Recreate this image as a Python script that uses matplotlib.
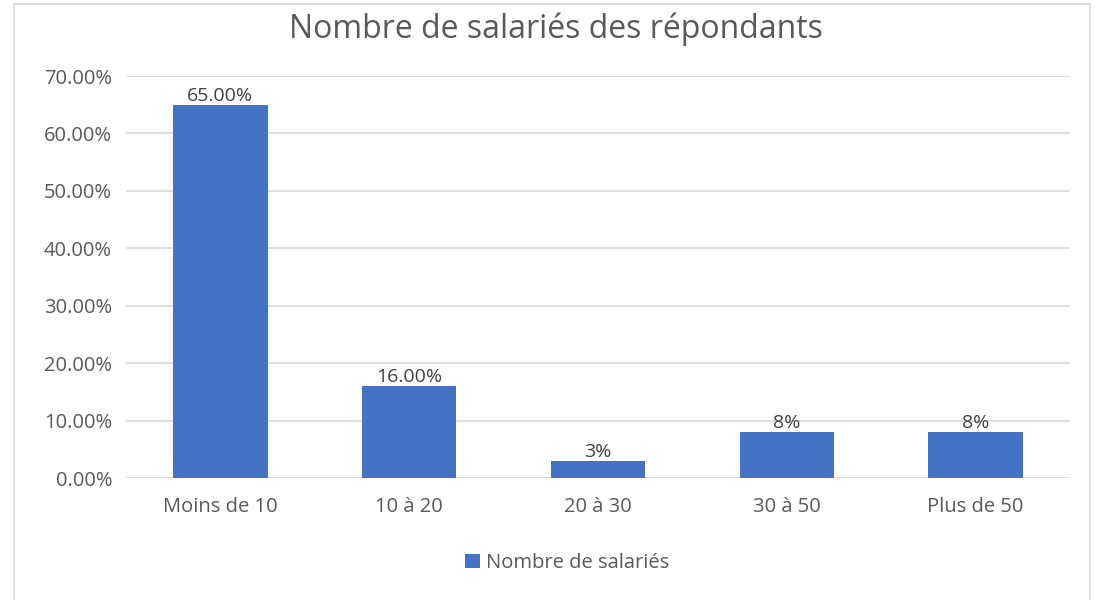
import matplotlib.pyplot as plt
from matplotlib.patches import Rectangle
from matplotlib.ticker import FuncFormatter

categories = ["Moins de 10", "10 à 20", "20 à 30", "30 à 50", "Plus de 50"]
values = [65.0, 16.0, 3.0, 8.0, 8.0]
labels = ["65.00%", "16.00%", "3%", "8%", "8%"]
yticks = [0, 10, 20, 30, 40, 50, 60, 70]

plt.rcParams['font.family'] = ['Open Sans', 'DejaVu Sans']

fig = plt.figure(figsize=(11.01, 6), dpi=100)
ax = fig.add_axes([0.1144, 0.2033, 0.8574, 0.67])

# light chart-area border like Excel
fig.patches.append(Rectangle((14 / 1101, -0.01), (1090 - 14) / 1101, 1 - 4 / 600 + 0.01,
                             transform=fig.transFigure, fill=False,
                             edgecolor='#d9d9d9', linewidth=1.2))

x = range(len(categories))
bars = ax.bar(x, values, width=0.5, color='#4472C4', zorder=3)
for b, lab in zip(bars, labels):
    ax.annotate(lab, (b.get_x() + b.get_width() / 2, b.get_height()),
                xytext=(0, 0), textcoords='offset points',
                ha='center', va='bottom', fontsize=14, color='#404040', zorder=4)

ax.set_xlim(-0.5, 4.5)
ax.set_ylim(0, 70)
ax.set_yticks(yticks)
ax.yaxis.set_major_formatter(FuncFormatter(lambda v, p: f"{v:.2f}%"))
ax.set_xticks(list(x))
ax.set_xticklabels(categories)
ax.tick_params(axis='both', length=0, labelsize=14.5, labelcolor='#595959')
ax.tick_params(axis='y', pad=10)
ax.tick_params(axis='x', pad=14)
ax.grid(axis='y', color='#d9d9d9', linewidth=1.2, zorder=0)
for s in ax.spines.values():
    s.set_visible(False)

fig.text(556 / 1101, 1 - 29 / 600, "Nombre de salariés des répondants",
         ha='center', va='center', fontsize=23, color='#595959')

ax.legend([bars[0]], ["Nombre de salariés"], loc='center',
          bbox_to_anchor=(567 / 1101, 1 - 563 / 600), bbox_transform=fig.transFigure,
          frameon=False, fontsize=14.5, labelcolor='#595959',
          handlelength=0.75, handleheight=0.75, handletextpad=0.3)

fig.savefig("out.png", dpi=100)
